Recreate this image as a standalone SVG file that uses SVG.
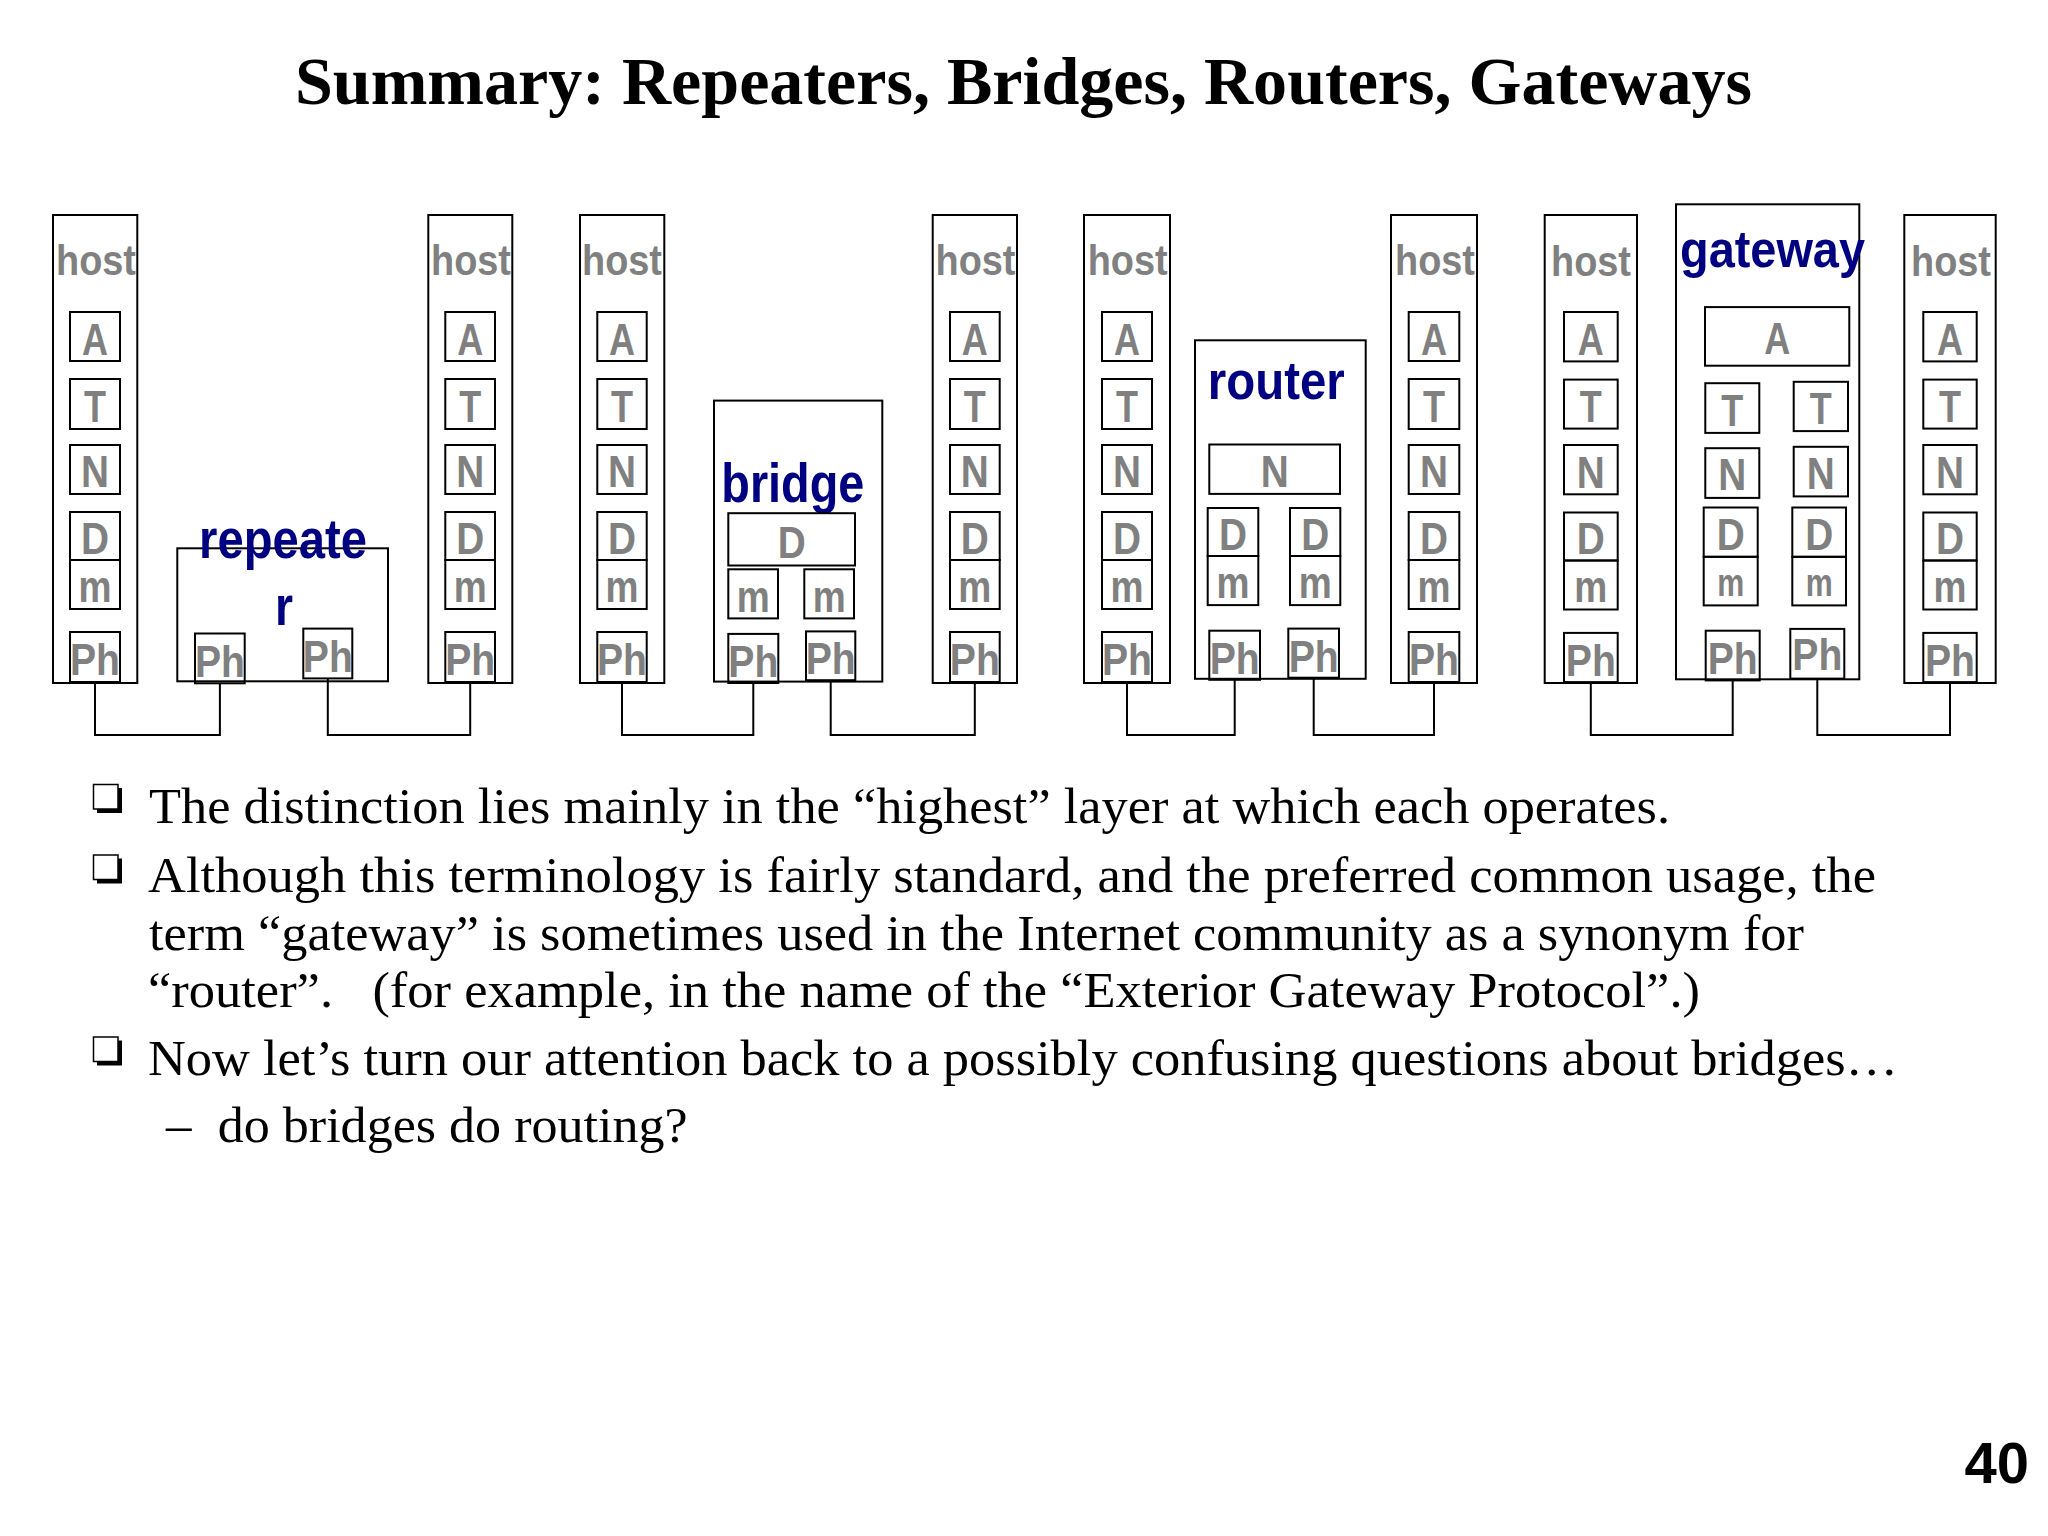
<svg xmlns="http://www.w3.org/2000/svg" width="2048" height="1536" viewBox="0 0 2048 1536">
<style>
.frame{fill:none;stroke:#000;stroke-width:2}
.box{fill:none;stroke:#000;stroke-width:2}
.wire{fill:none;stroke:#000;stroke-width:2}
.ly{font-family:"Liberation Sans",Arial,sans-serif;font-weight:bold;font-size:45px;fill:#808080;text-anchor:middle}
.hl{font-family:"Liberation Sans",Arial,sans-serif;font-weight:bold;font-size:43px;fill:#808080;text-anchor:middle}
.dv{font-family:"Liberation Sans",Arial,sans-serif;font-weight:bold;font-size:56px;fill:#000080;text-anchor:middle}
.title{font-family:"Liberation Serif","Times New Roman",serif;font-weight:bold;font-size:68px;fill:#000;text-anchor:middle}
.body{font-family:"Liberation Serif","Times New Roman",serif;font-size:51px;fill:#000}
.pg{font-family:"Liberation Sans",Arial,sans-serif;font-weight:bold;font-size:58px;fill:#000;text-anchor:end}
</style>
<defs>
<g id="bullet">
<rect x="3.5" y="3.5" width="25" height="25" fill="#000"/>
<rect x="0" y="0" width="24.5" height="24.5" fill="#fff" stroke="#000" stroke-width="1.5"/>
</g>
</defs>
<rect x="0" y="0" width="2048" height="1536" fill="#fff"/>
<text class="title" x="1023.5" y="104" textLength="1457" lengthAdjust="spacingAndGlyphs">Summary: Repeaters, Bridges, Routers, Gateways</text>

<g id="connectors">
<path class="wire" d="M95 682 V735 H219.9 V683.3"/>
<path class="wire" d="M327.8 678.4 V735 H470.2 V682"/>
<path class="wire" d="M622 682 V735 H753.3 V683"/>
<path class="wire" d="M830.7 680.2 V735 H974.8 V682"/>
<path class="wire" d="M1127 682 V735 H1234.7 V679.8"/>
<path class="wire" d="M1313.7 677.7 V735 H1434 V682"/>
<path class="wire" d="M1590.8 682 V735 H1732.7 V680.4"/>
<path class="wire" d="M1817.3 678.6 V735 H1950 V682"/>
</g>

<g id="host1">
<rect class="frame" x="53" y="215" width="84.3" height="468"/>
<text class="hl" x="96" y="274.5" textLength="80" lengthAdjust="spacingAndGlyphs">host</text>
<rect class="box" x="70" y="312" width="50" height="49"/><text class="ly" x="95" y="354.5" textLength="26" lengthAdjust="spacingAndGlyphs">A</text>
<rect class="box" x="70" y="379" width="50" height="50"/><text class="ly" x="95" y="422" textLength="22" lengthAdjust="spacingAndGlyphs">T</text>
<rect class="box" x="70" y="445" width="50" height="49"/><text class="ly" x="95" y="487" textLength="28" lengthAdjust="spacingAndGlyphs">N</text>
<rect class="box" x="70" y="512" width="50" height="48"/><text class="ly" x="95" y="553.5" textLength="28" lengthAdjust="spacingAndGlyphs">D</text>
<rect class="box" x="70" y="560" width="50" height="49"/><text class="ly" x="95" y="602" textLength="33" lengthAdjust="spacingAndGlyphs">m</text>
<rect class="box" x="70" y="632" width="50" height="50"/><text class="ly" x="95" y="675" textLength="50" lengthAdjust="spacingAndGlyphs">Ph</text>
</g>

<g id="repeater">
<rect class="frame" x="177.3" y="548.3" width="210.7" height="133"/>
<text class="dv" x="283" y="557.8" textLength="168" lengthAdjust="spacingAndGlyphs">repeate</text>
<text class="dv" x="284" y="625" textLength="18" lengthAdjust="spacingAndGlyphs">r</text>
<rect class="box" x="195" y="633.5" width="49.7" height="49.8"/><text class="ly" x="219.9" y="676.5" textLength="50" lengthAdjust="spacingAndGlyphs">Ph</text>
<rect class="box" x="303.3" y="628.6" width="49" height="49.8"/><text class="ly" x="327.8" y="671.7" textLength="50" lengthAdjust="spacingAndGlyphs">Ph</text>
</g>

<g id="host2">
<rect class="frame" x="428.3" y="215" width="84" height="468"/>
<text class="hl" x="471" y="274.5" textLength="80" lengthAdjust="spacingAndGlyphs">host</text>
<rect class="box" x="445.3" y="312" width="49.7" height="49"/><text class="ly" x="470.2" y="354.5" textLength="26" lengthAdjust="spacingAndGlyphs">A</text>
<rect class="box" x="445.3" y="379" width="49.7" height="50"/><text class="ly" x="470.2" y="422" textLength="22" lengthAdjust="spacingAndGlyphs">T</text>
<rect class="box" x="445.3" y="445" width="49.7" height="49"/><text class="ly" x="470.2" y="487" textLength="28" lengthAdjust="spacingAndGlyphs">N</text>
<rect class="box" x="445.3" y="512" width="49.7" height="48"/><text class="ly" x="470.2" y="553.5" textLength="28" lengthAdjust="spacingAndGlyphs">D</text>
<rect class="box" x="445.3" y="560" width="49.7" height="49"/><text class="ly" x="470.2" y="602" textLength="33" lengthAdjust="spacingAndGlyphs">m</text>
<rect class="box" x="445.3" y="632" width="49.7" height="50"/><text class="ly" x="470.2" y="675" textLength="50" lengthAdjust="spacingAndGlyphs">Ph</text>
</g>

<g id="host3">
<rect class="frame" x="580" y="215" width="84.3" height="468"/>
<text class="hl" x="622" y="274.5" textLength="80" lengthAdjust="spacingAndGlyphs">host</text>
<rect class="box" x="597.3" y="312" width="49.4" height="49"/><text class="ly" x="622" y="354.5" textLength="26" lengthAdjust="spacingAndGlyphs">A</text>
<rect class="box" x="597.3" y="379" width="49.4" height="50"/><text class="ly" x="622" y="422" textLength="22" lengthAdjust="spacingAndGlyphs">T</text>
<rect class="box" x="597.3" y="445" width="49.4" height="49"/><text class="ly" x="622" y="487" textLength="28" lengthAdjust="spacingAndGlyphs">N</text>
<rect class="box" x="597.3" y="512" width="49.4" height="48"/><text class="ly" x="622" y="553.5" textLength="28" lengthAdjust="spacingAndGlyphs">D</text>
<rect class="box" x="597.3" y="560" width="49.4" height="49"/><text class="ly" x="622" y="602" textLength="33" lengthAdjust="spacingAndGlyphs">m</text>
<rect class="box" x="597.3" y="632" width="49.4" height="50"/><text class="ly" x="622" y="675" textLength="50" lengthAdjust="spacingAndGlyphs">Ph</text>
</g>

<g id="bridge">
<rect class="frame" x="714" y="400.6" width="168.3" height="281"/>
<text class="dv" x="792.8" y="501.6" textLength="143" lengthAdjust="spacingAndGlyphs">bridge</text>
<rect class="box" x="728.3" y="513.2" width="126.7" height="52.3"/><text class="ly" x="791.7" y="558" textLength="28" lengthAdjust="spacingAndGlyphs">D</text>
<rect class="box" x="728.3" y="569.3" width="49.7" height="49.1"/><text class="ly" x="753.2" y="611.5" textLength="33" lengthAdjust="spacingAndGlyphs">m</text>
<rect class="box" x="804.3" y="569.3" width="49.7" height="49.1"/><text class="ly" x="829.2" y="611.5" textLength="33" lengthAdjust="spacingAndGlyphs">m</text>
<rect class="box" x="728.3" y="633.9" width="50" height="49.1"/><text class="ly" x="753.3" y="676.5" textLength="50" lengthAdjust="spacingAndGlyphs">Ph</text>
<rect class="box" x="806" y="631.4" width="49.3" height="48.8"/><text class="ly" x="830.7" y="673.5" textLength="50" lengthAdjust="spacingAndGlyphs">Ph</text>
</g>

<g id="host4">
<rect class="frame" x="932.7" y="215" width="84.3" height="468"/>
<text class="hl" x="975.5" y="274.5" textLength="80" lengthAdjust="spacingAndGlyphs">host</text>
<rect class="box" x="950" y="312" width="49.7" height="49"/><text class="ly" x="974.8" y="354.5" textLength="26" lengthAdjust="spacingAndGlyphs">A</text>
<rect class="box" x="950" y="379" width="49.7" height="50"/><text class="ly" x="974.8" y="422" textLength="22" lengthAdjust="spacingAndGlyphs">T</text>
<rect class="box" x="950" y="445" width="49.7" height="49"/><text class="ly" x="974.8" y="487" textLength="28" lengthAdjust="spacingAndGlyphs">N</text>
<rect class="box" x="950" y="512" width="49.7" height="48"/><text class="ly" x="974.8" y="553.5" textLength="28" lengthAdjust="spacingAndGlyphs">D</text>
<rect class="box" x="950" y="560" width="49.7" height="49"/><text class="ly" x="974.8" y="602" textLength="33" lengthAdjust="spacingAndGlyphs">m</text>
<rect class="box" x="950" y="632" width="49.7" height="50"/><text class="ly" x="974.8" y="675" textLength="50" lengthAdjust="spacingAndGlyphs">Ph</text>
</g>

<g id="host5">
<rect class="frame" x="1084" y="215" width="86" height="468"/>
<text class="hl" x="1127.7" y="274.5" textLength="80" lengthAdjust="spacingAndGlyphs">host</text>
<rect class="box" x="1102" y="312" width="50" height="49"/><text class="ly" x="1127" y="354.5" textLength="26" lengthAdjust="spacingAndGlyphs">A</text>
<rect class="box" x="1102" y="379" width="50" height="50"/><text class="ly" x="1127" y="422" textLength="22" lengthAdjust="spacingAndGlyphs">T</text>
<rect class="box" x="1102" y="445" width="50" height="49"/><text class="ly" x="1127" y="487" textLength="28" lengthAdjust="spacingAndGlyphs">N</text>
<rect class="box" x="1102" y="512" width="50" height="48"/><text class="ly" x="1127" y="553.5" textLength="28" lengthAdjust="spacingAndGlyphs">D</text>
<rect class="box" x="1102" y="560" width="50" height="49"/><text class="ly" x="1127" y="602" textLength="33" lengthAdjust="spacingAndGlyphs">m</text>
<rect class="box" x="1102" y="632" width="50" height="50"/><text class="ly" x="1127" y="675" textLength="50" lengthAdjust="spacingAndGlyphs">Ph</text>
</g>

<g id="router">
<rect class="frame" x="1195" y="340.3" width="170.7" height="338.5"/>
<text class="dv" x="1276.3" y="399.2" style="font-size:53px" textLength="137" lengthAdjust="spacingAndGlyphs">router</text>
<rect class="box" x="1209.3" y="444.5" width="130.7" height="49.4"/><text class="ly" x="1274.7" y="487" textLength="28" lengthAdjust="spacingAndGlyphs">N</text>
<rect class="box" x="1207.7" y="508" width="50.6" height="48"/><text class="ly" x="1233" y="549.5" textLength="28" lengthAdjust="spacingAndGlyphs">D</text>
<rect class="box" x="1207.7" y="556" width="50.6" height="49.1"/><text class="ly" x="1233" y="598" textLength="33" lengthAdjust="spacingAndGlyphs">m</text>
<rect class="box" x="1290" y="508" width="50.3" height="48"/><text class="ly" x="1315.2" y="549.5" textLength="28" lengthAdjust="spacingAndGlyphs">D</text>
<rect class="box" x="1290" y="556" width="50.3" height="49.1"/><text class="ly" x="1315.2" y="598" textLength="33" lengthAdjust="spacingAndGlyphs">m</text>
<rect class="box" x="1209.3" y="630.7" width="50.7" height="49.1"/><text class="ly" x="1234.7" y="673.5" textLength="50" lengthAdjust="spacingAndGlyphs">Ph</text>
<rect class="box" x="1288.3" y="628.6" width="50.7" height="49.1"/><text class="ly" x="1313.7" y="671.5" textLength="50" lengthAdjust="spacingAndGlyphs">Ph</text>
</g>

<g id="host6">
<rect class="frame" x="1391" y="215" width="86" height="468"/>
<text class="hl" x="1435" y="274.5" textLength="80" lengthAdjust="spacingAndGlyphs">host</text>
<rect class="box" x="1408.7" y="312" width="50.6" height="49"/><text class="ly" x="1434" y="354.5" textLength="26" lengthAdjust="spacingAndGlyphs">A</text>
<rect class="box" x="1408.7" y="379" width="50.6" height="50"/><text class="ly" x="1434" y="422" textLength="22" lengthAdjust="spacingAndGlyphs">T</text>
<rect class="box" x="1408.7" y="445" width="50.6" height="49"/><text class="ly" x="1434" y="487" textLength="28" lengthAdjust="spacingAndGlyphs">N</text>
<rect class="box" x="1408.7" y="512" width="50.6" height="48"/><text class="ly" x="1434" y="553.5" textLength="28" lengthAdjust="spacingAndGlyphs">D</text>
<rect class="box" x="1408.7" y="560" width="50.6" height="49"/><text class="ly" x="1434" y="602" textLength="33" lengthAdjust="spacingAndGlyphs">m</text>
<rect class="box" x="1408.7" y="632" width="50.6" height="50"/><text class="ly" x="1434" y="675" textLength="50" lengthAdjust="spacingAndGlyphs">Ph</text>
</g>

<g id="host7">
<rect class="frame" x="1544.7" y="215" width="92.3" height="468"/>
<text class="hl" x="1591" y="275.5" textLength="80" lengthAdjust="spacingAndGlyphs">host</text>
<rect class="box" x="1564" y="312" width="53.7" height="49.4"/><text class="ly" x="1590.8" y="354.5" textLength="26" lengthAdjust="spacingAndGlyphs">A</text>
<rect class="box" x="1564" y="379.6" width="53.7" height="49"/><text class="ly" x="1590.8" y="422" textLength="22" lengthAdjust="spacingAndGlyphs">T</text>
<rect class="box" x="1564" y="445" width="53.7" height="49.3"/><text class="ly" x="1590.8" y="487.5" textLength="28" lengthAdjust="spacingAndGlyphs">N</text>
<rect class="box" x="1564" y="512.5" width="53.7" height="48"/><text class="ly" x="1590.8" y="554" textLength="28" lengthAdjust="spacingAndGlyphs">D</text>
<rect class="box" x="1564" y="560.5" width="53.7" height="49"/><text class="ly" x="1590.8" y="602" textLength="33" lengthAdjust="spacingAndGlyphs">m</text>
<rect class="box" x="1564" y="632.9" width="53.7" height="49.2"/><text class="ly" x="1590.8" y="675.5" textLength="50" lengthAdjust="spacingAndGlyphs">Ph</text>
</g>

<g id="gateway">
<rect class="frame" x="1676" y="204.3" width="183.3" height="475"/>
<text class="dv" x="1772.5" y="266.8" style="font-size:52px" textLength="185" lengthAdjust="spacingAndGlyphs">gateway</text>
<rect class="box" x="1705" y="307.1" width="144.3" height="58.6"/><text class="ly" x="1777.2" y="354" textLength="26" lengthAdjust="spacingAndGlyphs">A</text>
<rect class="box" x="1705.3" y="383.2" width="54" height="49.7"/><text class="ly" x="1732.3" y="425.7" textLength="22" lengthAdjust="spacingAndGlyphs">T</text>
<rect class="box" x="1793.7" y="381.8" width="54.3" height="49.3"/><text class="ly" x="1820.8" y="424.3" textLength="22" lengthAdjust="spacingAndGlyphs">T</text>
<rect class="box" x="1705.3" y="448.2" width="54" height="49.7"/><text class="ly" x="1732.3" y="490" textLength="28" lengthAdjust="spacingAndGlyphs">N</text>
<rect class="box" x="1793.7" y="446.8" width="54.3" height="49.6"/><text class="ly" x="1820.8" y="488.6" textLength="28" lengthAdjust="spacingAndGlyphs">N</text>
<rect class="box" x="1703.7" y="507.5" width="54" height="49.3"/><text class="ly" x="1730.7" y="550" textLength="28" lengthAdjust="spacingAndGlyphs">D</text>
<rect class="box" x="1703.7" y="556.8" width="54" height="48.6"/><text class="ly" x="1730.7" y="596.4" style="font-size:38px" textLength="27" lengthAdjust="spacingAndGlyphs">m</text>
<rect class="box" x="1792.3" y="507.5" width="53.7" height="49.3"/><text class="ly" x="1819.2" y="550" textLength="28" lengthAdjust="spacingAndGlyphs">D</text>
<rect class="box" x="1792.3" y="556.8" width="53.7" height="48.6"/><text class="ly" x="1819.2" y="596.4" style="font-size:38px" textLength="27" lengthAdjust="spacingAndGlyphs">m</text>
<rect class="box" x="1705.7" y="630.7" width="54" height="49.7"/><text class="ly" x="1732.7" y="674" textLength="50" lengthAdjust="spacingAndGlyphs">Ph</text>
<rect class="box" x="1790.3" y="628.9" width="54" height="49.7"/><text class="ly" x="1817.3" y="670.4" textLength="50" lengthAdjust="spacingAndGlyphs">Ph</text>
</g>

<g id="host8">
<rect class="frame" x="1904.3" y="215" width="91.4" height="468"/>
<text class="hl" x="1951" y="275.5" textLength="80" lengthAdjust="spacingAndGlyphs">host</text>
<rect class="box" x="1923.3" y="312" width="53.4" height="49.4"/><text class="ly" x="1950" y="354.5" textLength="26" lengthAdjust="spacingAndGlyphs">A</text>
<rect class="box" x="1923.3" y="379.6" width="53.4" height="49"/><text class="ly" x="1950" y="422" textLength="22" lengthAdjust="spacingAndGlyphs">T</text>
<rect class="box" x="1923.3" y="445" width="53.4" height="49.3"/><text class="ly" x="1950" y="487.5" textLength="28" lengthAdjust="spacingAndGlyphs">N</text>
<rect class="box" x="1923.3" y="512.5" width="53.4" height="48"/><text class="ly" x="1950" y="554" textLength="28" lengthAdjust="spacingAndGlyphs">D</text>
<rect class="box" x="1923.3" y="560.5" width="53.4" height="49"/><text class="ly" x="1950" y="602" textLength="33" lengthAdjust="spacingAndGlyphs">m</text>
<rect class="box" x="1923.3" y="632.9" width="53.4" height="49.2"/><text class="ly" x="1950" y="675.5" textLength="50" lengthAdjust="spacingAndGlyphs">Ph</text>
</g>

<g id="bullets">
<use href="#bullet" x="93.5" y="784.5"/>
<use href="#bullet" x="93.5" y="855"/>
<use href="#bullet" x="93.5" y="1037"/>
<text class="body" x="149" y="823.3" textLength="1521" lengthAdjust="spacingAndGlyphs">The distinction lies mainly in the “highest” layer at which each operates.</text>
<text class="body" x="148" y="891.7" textLength="1728" lengthAdjust="spacingAndGlyphs">Although this terminology is fairly standard, and the preferred common usage, the</text>
<text class="body" x="149" y="950" textLength="1655" lengthAdjust="spacingAndGlyphs">term “gateway” is sometimes used in the Internet community as a synonym for</text>
<text class="body" x="148" y="1006.7" textLength="1552" lengthAdjust="spacingAndGlyphs" xml:space="preserve" style="white-space:pre">“router”.   (for example, in the name of the “Exterior Gateway Protocol”.)</text>
<text class="body" x="148" y="1075" textLength="1750" lengthAdjust="spacingAndGlyphs">Now let’s turn our attention back to a possibly confusing questions about bridges…</text>
<text class="body" x="166" y="1141.7">–</text>
<text class="body" x="217.7" y="1141.7" textLength="470" lengthAdjust="spacingAndGlyphs">do bridges do routing?</text>
</g>

<text class="pg" x="2029" y="1483.3">40</text>
</svg>
